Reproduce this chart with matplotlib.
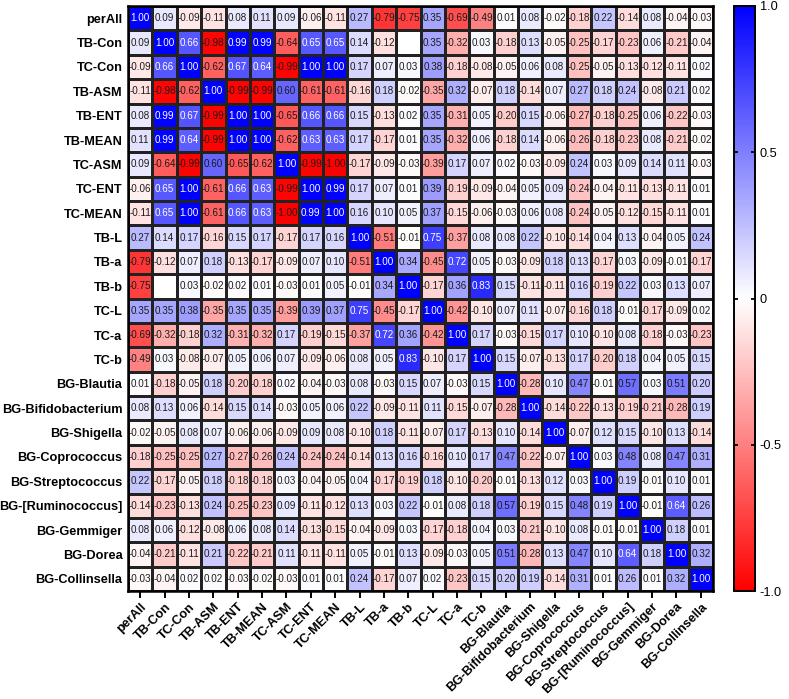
import numpy as np
import matplotlib
matplotlib.use("Agg")
import matplotlib.pyplot as plt
from matplotlib.colors import LinearSegmentedColormap

plt.rcParams['font.family'] = ['Liberation Sans', 'DejaVu Sans']

labels = ["perAll", "TB-Con", "TC-Con", "TB-ASM", "TB-ENT", "TB-MEAN", "TC-ASM",
          "TC-ENT", "TC-MEAN", "TB-L", "TB-a", "TB-b", "TC-L", "TC-a", "TC-b",
          "BG-Blautia", "BG-Bifidobacterium", "BG-Shigella", "BG-Coprococcus",
          "BG-Streptococcus", "BG-[Ruminococcus]", "BG-Gemmiger", "BG-Dorea",
          "BG-Collinsella"]

nan = float('nan')
rows = [
    [1.00, 0.09, -0.09, -0.11, 0.08, 0.11, 0.09, -0.06, -0.11, 0.27, -0.79, -0.75, 0.35, -0.69, -0.49, 0.01, 0.08, -0.02, -0.18, 0.22, -0.14, 0.08, -0.04, -0.03],
    [0.09, 1.00, 0.66, -0.98, 0.99, 0.99, -0.64, 0.65, 0.65, 0.14, -0.12, nan, 0.35, -0.32, 0.03, -0.18, 0.13, -0.05, -0.25, -0.17, -0.23, 0.06, -0.21, -0.04],
    [-0.09, 0.66, 1.00, -0.62, 0.67, 0.64, -0.99, 1.00, 1.00, 0.17, 0.07, 0.03, 0.38, -0.18, -0.08, -0.05, 0.06, 0.08, -0.25, -0.05, -0.13, -0.12, -0.11, 0.02],
    [-0.11, -0.98, -0.62, 1.00, -0.99, -0.99, 0.60, -0.61, -0.61, -0.16, 0.18, -0.02, -0.35, 0.32, -0.07, 0.18, -0.14, 0.07, 0.27, 0.18, 0.24, -0.08, 0.21, 0.02],
    [0.08, 0.99, 0.67, -0.99, 1.00, 1.00, -0.65, 0.66, 0.66, 0.15, -0.13, 0.02, 0.35, -0.31, 0.05, -0.20, 0.15, -0.06, -0.27, -0.18, -0.25, 0.06, -0.22, -0.03],
    [0.11, 0.99, 0.64, -0.99, 1.00, 1.00, -0.62, 0.63, 0.63, 0.17, -0.17, 0.01, 0.35, -0.32, 0.06, -0.18, 0.14, -0.06, -0.26, -0.18, -0.23, 0.08, -0.21, -0.02],
    [0.09, -0.64, -0.99, 0.60, -0.65, -0.62, 1.00, -0.99, -1.00, -0.17, -0.09, -0.03, -0.39, 0.17, 0.07, 0.02, -0.03, -0.09, 0.24, 0.03, 0.09, 0.14, 0.11, -0.03],
    [-0.06, 0.65, 1.00, -0.61, 0.66, 0.63, -0.99, 1.00, 0.99, 0.17, 0.07, 0.01, 0.39, -0.19, -0.09, -0.04, 0.05, 0.09, -0.24, -0.04, -0.11, -0.13, -0.11, 0.01],
    [-0.11, 0.65, 1.00, -0.61, 0.66, 0.63, -1.00, 0.99, 1.00, 0.16, 0.10, 0.05, 0.37, -0.15, -0.06, -0.03, 0.06, 0.08, -0.24, -0.05, -0.12, -0.15, -0.11, 0.01],
    [0.27, 0.14, 0.17, -0.16, 0.15, 0.17, -0.17, 0.17, 0.16, 1.00, -0.51, -0.01, 0.75, -0.37, 0.08, 0.08, 0.22, -0.10, -0.14, 0.04, 0.13, -0.04, 0.05, 0.24],
    [-0.79, -0.12, 0.07, 0.18, -0.13, -0.17, -0.09, 0.07, 0.10, -0.51, 1.00, 0.34, -0.45, 0.72, 0.05, -0.03, -0.09, 0.18, 0.13, -0.17, 0.03, -0.09, -0.01, -0.17],
    [-0.75, nan, 0.03, -0.02, 0.02, 0.01, -0.03, 0.01, 0.05, -0.01, 0.34, 1.00, -0.17, 0.36, 0.83, 0.15, -0.11, -0.11, 0.16, -0.19, 0.22, 0.03, 0.13, 0.07],
    [0.35, 0.35, 0.38, -0.35, 0.35, 0.35, -0.39, 0.39, 0.37, 0.75, -0.45, -0.17, 1.00, -0.42, -0.10, 0.07, 0.11, -0.07, -0.16, 0.18, -0.01, -0.17, -0.09, 0.02],
    [-0.69, -0.32, -0.18, 0.32, -0.31, -0.32, 0.17, -0.19, -0.15, -0.37, 0.72, 0.36, -0.42, 1.00, 0.17, -0.03, -0.15, 0.17, 0.10, -0.10, 0.08, -0.18, -0.03, -0.23],
    [-0.49, 0.03, -0.08, -0.07, 0.05, 0.06, 0.07, -0.09, -0.06, 0.08, 0.05, 0.83, -0.10, 0.17, 1.00, 0.15, -0.07, -0.13, 0.17, -0.20, 0.18, 0.04, 0.05, 0.15],
    [0.01, -0.18, -0.05, 0.18, -0.20, -0.18, 0.02, -0.04, -0.03, 0.08, -0.03, 0.15, 0.07, -0.03, 0.15, 1.00, -0.28, 0.10, 0.47, -0.01, 0.57, 0.03, 0.51, 0.20],
    [0.08, 0.13, 0.06, -0.14, 0.15, 0.14, -0.03, 0.05, 0.06, 0.22, -0.09, -0.11, 0.11, -0.15, -0.07, -0.28, 1.00, -0.14, -0.22, -0.13, -0.19, -0.21, -0.28, 0.19],
    [-0.02, -0.05, 0.08, 0.07, -0.06, -0.06, -0.09, 0.09, 0.08, -0.10, 0.18, -0.11, -0.07, 0.17, -0.13, 0.10, -0.14, 1.00, -0.07, 0.12, 0.15, -0.10, 0.13, -0.14],
    [-0.18, -0.25, -0.25, 0.27, -0.27, -0.26, 0.24, -0.24, -0.24, -0.14, 0.13, 0.16, -0.16, 0.10, 0.17, 0.47, -0.22, -0.07, 1.00, 0.03, 0.48, 0.08, 0.47, 0.31],
    [0.22, -0.17, -0.05, 0.18, -0.18, -0.18, 0.03, -0.04, -0.05, 0.04, -0.17, -0.19, 0.18, -0.10, -0.20, -0.01, -0.13, 0.12, 0.03, 1.00, 0.19, -0.01, 0.10, 0.01],
    [-0.14, -0.23, -0.13, 0.24, -0.25, -0.23, 0.09, -0.11, -0.12, 0.13, 0.03, 0.22, -0.01, 0.08, 0.18, 0.57, -0.19, 0.15, 0.48, 0.19, 1.00, -0.01, 0.64, 0.26],
    [0.08, 0.06, -0.12, -0.08, 0.06, 0.08, 0.14, -0.13, -0.15, -0.04, -0.09, 0.03, -0.17, -0.18, 0.04, 0.03, -0.21, -0.10, 0.08, -0.01, -0.01, 1.00, 0.18, 0.01],
    [-0.04, -0.21, -0.11, 0.21, -0.22, -0.21, 0.11, -0.11, -0.11, 0.05, -0.01, 0.13, -0.09, -0.03, 0.05, 0.51, -0.28, 0.13, 0.47, 0.10, 0.64, 0.18, 1.00, 0.32],
    [-0.03, -0.04, 0.02, 0.02, -0.03, -0.02, -0.03, 0.01, 0.01, 0.24, -0.17, 0.07, 0.02, -0.23, 0.15, 0.20, 0.19, -0.14, 0.31, 0.01, 0.26, 0.01, 0.32, 1.00],
]

M = np.ma.masked_invalid(np.array(rows, dtype=float))
n = len(labels)

cmap = LinearSegmentedColormap.from_list("rwb", [(1, 0, 0), (1, 1, 1), (0, 0, 1)])

W, H = 789, 699
fig = plt.figure(figsize=(W / 100, H / 100), dpi=100)
hx0, hx1, hy0, hy1 = 128, 713, 6, 591
ax = fig.add_axes([hx0 / W, 1 - hy1 / H, (hx1 - hx0) / W, (hy1 - hy0) / H])
ax.set_facecolor('white')
mesh = ax.pcolormesh(np.arange(n + 1), np.arange(n + 1), M, cmap=cmap, vmin=-1, vmax=1,
                     edgecolors='#222222', linewidth=0.8)
ax.set_xlim(0, n)
ax.set_ylim(n, 0)

for i in range(n):
    for j in range(n):
        v = M[i, j]
        if np.ma.is_masked(v):
            continue
        color = 'white' if v > 0.6 else '#1a1a1a'
        ax.text(j + 0.5, i + 0.5, f"{v:.2f}", ha='center', va='center',
                fontsize=7.1, color=color)

ax.set_xticks(np.arange(n) + 0.5)
ax.set_yticks(np.arange(n) + 0.5)
ax.set_xticklabels(labels, rotation=45, ha='right', rotation_mode='anchor',
                   fontsize=9.2, fontweight='bold')
ax.set_yticklabels(labels, fontsize=9.2, fontweight='bold')
ax.tick_params(axis='x', length=5, width=1.4, pad=2)
ax.tick_params(axis='y', length=0, pad=4)
for s in ax.spines.values():
    s.set_linewidth(1.8)

cax = fig.add_axes([734 / W, 1 - hy1 / H, 21 / W, (hy1 - hy0) / H])
cb = fig.colorbar(mesh, cax=cax)
cb.set_ticks([-1.0, -0.5, 0, 0.5, 1.0])
cb.set_ticklabels(['-1.0', '-0.5', '0', '0.5', '1.0'])
cb.ax.tick_params(labelsize=9.2, length=3, width=1.3, direction='in', left=True, right=True)
cb.outline.set_linewidth(1.4)

fig.savefig("out.png", dpi=100)
